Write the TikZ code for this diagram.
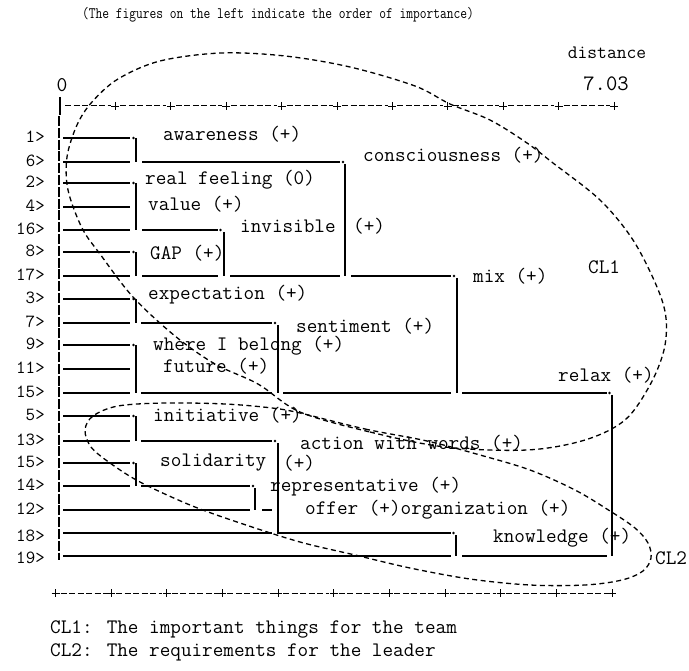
\documentclass[tikz,border=0pt]{standalone}
\usepackage{fontspec}
\usepackage{graphicx}
\begin{document}
\begin{tikzpicture}[x=1pt,y=-1pt,
  lbl/.style={font=\ttfamily\fontsize{20.6}{22}\selectfont, anchor=west, inner sep=0pt},
  rowno/.style={font=\ttfamily\fontsize{18.5}{20}\selectfont, anchor=east, inner sep=0pt},
  small/.style={font=\ttfamily\fontsize{16}{17}\selectfont, inner sep=0pt},
  tree/.style={line width=1.1pt},
  axisln/.style={line width=1pt, dash pattern=on 6pt off 2.5pt},
  clus/.style={line width=1.3pt, dash pattern=on 5pt off 3.5pt},
  endpt/.style={circle, fill, inner sep=0pt, minimum size=2.8pt}]
\useasboundingbox (0,0) rectangle (689,671);

% heading and scale
\node[small] (title) at (278,15) {\scalebox{0.82}[1]{(The figures on the left indicate the order of importance)}};
\node[font=\ttfamily\fontsize{19}{20}\selectfont, inner sep=0pt] (dist) at (607,53) {distance};
\node[font=\ttfamily\fontsize{21}{22}\selectfont, inner sep=0pt] (zero) at (62,85) {0};
\node[font=\ttfamily\fontsize{22}{23}\selectfont, inner sep=0pt] (max) at (606,84) {7.03};

% top axis
\draw[tree] (60,97) -- (60,115);
\foreach \k in {1,...,10} {
  \pgfmathsetmacro{\xa}{60+55.4*(\k-1)+5}
  \pgfmathsetmacro{\xb}{60+55.4*\k-4.5}
  \pgfmathsetmacro{\xc}{60+55.4*\k}
  \draw[axisln] (\xa,106) -- (\xb,106);
  \draw[line width=0.9pt] (\xc-4,106) -- (\xc+4,106) (\xc,102) -- (\xc,110);
}
% bottom axis
\foreach \k in {0,...,10} {
  \pgfmathsetmacro{\xc}{55.5+55.65*\k}
  \draw[line width=0.9pt] (\xc-4,593) -- (\xc+4,593) (\xc,589) -- (\xc,597);
}
\foreach \k in {1,...,10} {
  \pgfmathsetmacro{\xa}{55.5+55.65*(\k-1)+5}
  \pgfmathsetmacro{\xb}{55.5+55.65*\k-4.5}
  \draw[axisln] (\xa,593) -- (\xb,593);
}

% left border column
\draw[tree, dash pattern=on 10pt off 1.8pt] (59,116) -- (59,560);

% row numbers and leaf lines
\foreach \n/\y in {1/138,6/162,2/183,4/207,16/230,8/252,17/276,3/299,7/323,9/345,11/369,15/393,5/416,13/441,15/463,14/486} {
  \node[rowno] at (45,\y-1) {\n>};
  \draw[tree] (63,\y) -- (130,\y);
}
\node[rowno] at (45,509) {12>};
\node[rowno] at (45,536) {18>};
\node[rowno] at (45,558) {19>};
\draw[tree] (63,510) -- (250,510);
\draw[tree] (63,533) -- (272,533);
\draw[tree] (63,556) -- (451,556);

% first-level joins
\foreach \ya/\yb in {138/162,183/230,252/276,299/323,345/393,416/441,463/486}
  \draw[tree] (136,\ya) -- (136,\yb);
\foreach \y in {138,183,252,299,345,416,463}
  \node[endpt] at (133.5,\y) {};

% upper branch
\draw[tree] (142,162) -- (340,162);
\node[endpt] at (343,162) {};
\draw[tree] (142,230) -- (218,230);
\node[endpt] at (220.5,230) {};
\draw[tree] (142,276) -- (218,276);
\draw[tree] (224,232) -- (224,276);
\draw[tree] (230,276) -- (340,276);
\draw[tree] (345,164) -- (345,276);
\draw[tree] (351,276) -- (451,276);
\node[endpt] at (454,276) {};

% middle branch
\draw[tree] (141,323) -- (272,323);
\node[endpt] at (275,323) {};
\draw[tree] (141,393) -- (272,393);
\draw[tree] (278,325) -- (278,393);
\draw[tree] (283,393) -- (451,393);
\draw[tree] (457,278) -- (457,393);
\draw[tree] (462,393) -- (607,393);
\node[endpt] at (609.5,393) {};

% lower branch
\draw[tree] (141,441) -- (272,441);
\node[endpt] at (275,441) {};
\draw[tree] (141,486) -- (250,486);
\node[endpt] at (253,486) {};
\draw[tree] (255,488) -- (255,510);
\draw[tree] (262,510) -- (272,510);
\draw[tree] (278,443) -- (278,533) -- (451,533);
\node[endpt] at (453.5,533) {};
\draw[tree] (456,535) -- (456,556);
\draw[tree] (462,556) -- (607,556);
\draw[tree] (612,395) -- (612,556);

% cluster annotations
\node[lbl] (aw)  at (163,134) {awareness (+)};
\node[lbl] (co)  at (363,155) {consciousness (+)};
\node[lbl] (rf)  at (145,180) {real feeling (0)};
\node[lbl] (va)  at (148,204) {value (+)};
\node[lbl] (inv) at (240,226) {invisible};
\node[lbl] (invs) at (353,226) {(+)};
\node[lbl] (gap) at (150,253) {GAP (+)};
\node[lbl] (mix) at (473,276) {mix (+)};
\node[lbl] (ex)  at (148,295) {expectation (+)};
\node[lbl] (se)  at (296,326) {sentiment (+)};
\node[lbl] (wb)  at (153,346) {where I belong (+)};
\node[lbl] (fu)  at (163,366) {future (+)};
\node[lbl] (rl)  at (558,375) {relax (+)};
\node[lbl] (in)  at (153,415) {initiative (+)};
\node[lbl] (aww) at (300,443) {action with words (+)};
\node[lbl] (so)  at (160,463) {solidarity};
\node[lbl] (sos) at (283,463) {(+)};
\node[lbl] (rep) at (270,487) {representative (+)};
\node[lbl] (of)  at (305,510) {offer (+)organization (+)};
\node[lbl] (kn)  at (493,538) {knowledge (+)};

% cluster outlines
\draw[clus] plot[smooth cycle, tension=0.55] coordinates {
  (300,412) (370,432) (445,447) (527,450) (585,440) (625,420) (650,385)
  (664,350) (666,318) (657,287) (633,240) (600,200) (553,163) (527,143)
  (490,120) (450,104) (415,86) (350,67) (285,56) (221,53) (160,61)
  (118,79) (92,102) (77,125) (67,157) (68,190) (82,228) (100,254)
  (133,297) (175,336) (215,364) (258,384)};
\node[lbl] (cl1) at (588,267) {CL1};

\draw[clus] plot[smooth cycle, tension=0.55] coordinates {
  (300,413) (365,429) (427,441) (480,455) (530,470) (575,490) (610,511)
  (635,528) (648,543) (651,558) (643,571) (622,580) (585,585) (530,585)
  (470,579) (410,568) (355,555) (300,542) (240,523) (190,505) (140,482)
  (110,463) (91,447) (85,430) (93,416) (118,406) (165,403) (225,404)
  (272,408)};
\node[lbl] (cl2) at (655,558) {CL2};

% legend
\node[lbl] (leg1) at (50,629) {CL1: The important things for the team};
\node[lbl] (leg2) at (50,652) {CL2: The requirements for the leader};
\end{tikzpicture}
\end{document}
